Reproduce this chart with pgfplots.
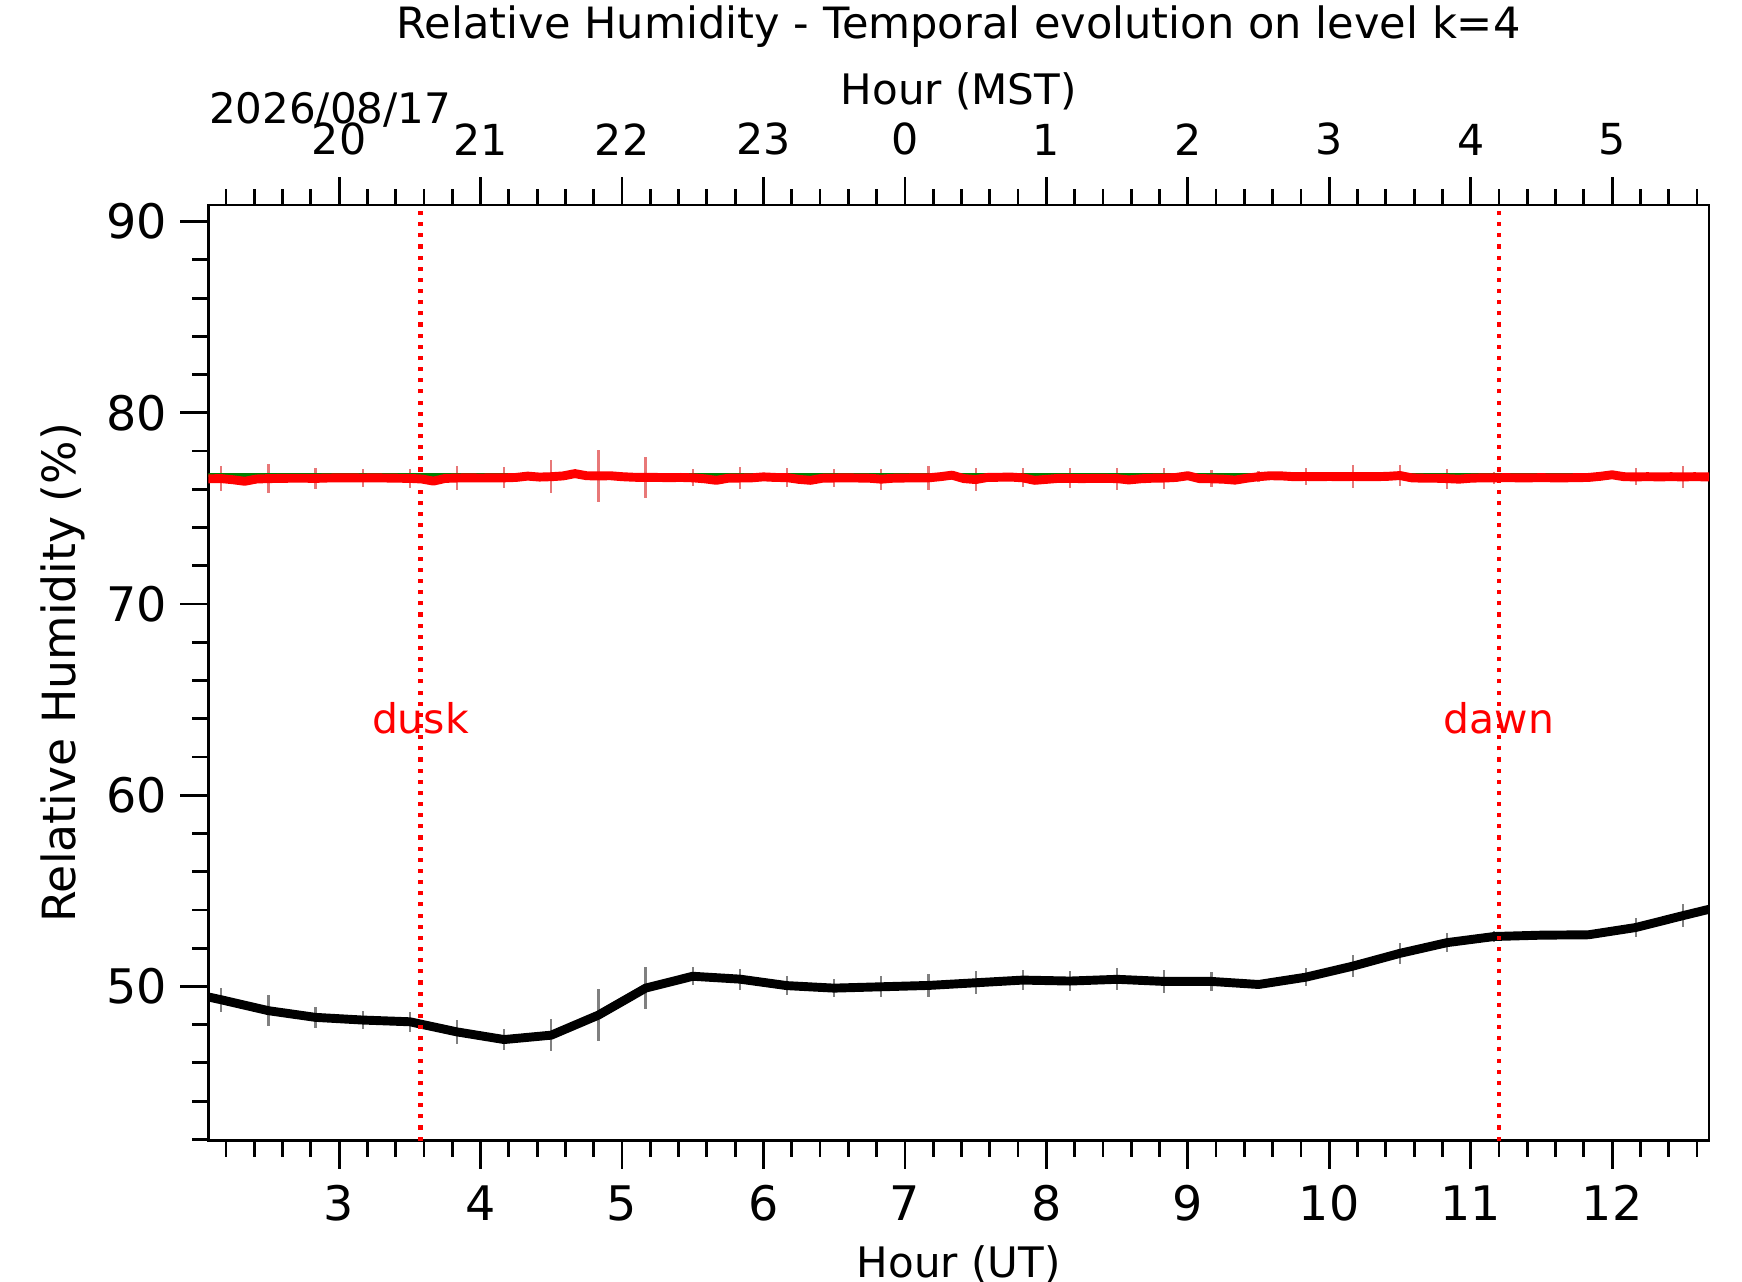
\documentclass[border=0pt]{standalone}
\usepackage{pgfplots}
\usepackage{pgfplotstable}
\pgfplotsset{compat=1.18}
\usepackage{fontspec}
\setmainfont{DejaVu Sans}
\newcommand{\fs}{\fontsize{11.3}{13.6}\selectfont}
\newcommand{\fsb}{\fontsize{12.8}{15.4}\selectfont}
\newcommand{\fst}{\fontsize{11.5}{13.8}\selectfont}
\newcommand{\fstt}{\fontsize{11.6}{13.9}\selectfont}
\newcommand{\fsy}{\fontsize{12.3}{14.8}\selectfont}
\definecolor{rebar}{RGB}{232,120,120}
\definecolor{gbar}{RGB}{128,128,128}
\definecolor{dkgreen}{RGB}{0,128,0}

\pgfplotstableread{
h v e
1.8333 49.84 0
2.1667 49.30 0.64
2.5000 48.73 0.81
2.8333 48.38 0.55
3.1667 48.24 0.49
3.5000 48.15 0.53
3.8333 47.62 0.62
4.1667 47.22 0.55
4.5000 47.45 0.85
4.8333 48.50 1.38
5.1667 49.91 1.08
5.5000 50.53 0.48
5.8333 50.38 0.55
6.1667 50.04 0.50
6.5000 49.91 0.49
6.8333 49.98 0.55
7.1667 50.05 0.61
7.5000 50.19 0.60
7.8333 50.33 0.51
8.1667 50.28 0.53
8.5000 50.37 0.58
8.8333 50.26 0.58
9.1667 50.26 0.48
9.5000 50.10 0.25
9.8333 50.48 0.46
10.1667 51.06 0.58
10.5000 51.73 0.56
10.8333 52.29 0.48
11.1667 52.61 0.27
11.5000 52.68 0.20
11.8333 52.70 0.20
12.1667 53.08 0.48
12.5000 53.70 0.59
12.8333 54.30 0
}\blackdata

\pgfplotstableread{
h v e
2.1667 76.56 0.67
2.5000 76.56 0.75
2.8333 76.57 0.54
3.1667 76.59 0.48
3.5000 76.57 0.50
3.8333 76.59 0.62
4.1667 76.60 0.55
4.5000 76.66 0.86
4.8333 76.70 1.37
5.1667 76.62 1.06
5.5000 76.60 0.45
5.8333 76.59 0.58
6.1667 76.61 0.49
6.5000 76.59 0.49
6.8333 76.53 0.55
7.1667 76.60 0.61
7.5000 76.51 0.61
7.8333 76.60 0.49
8.1667 76.57 0.52
8.5000 76.56 0.57
8.8333 76.59 0.55
9.1667 76.55 0.44
9.5000 76.66 0.30
9.8333 76.67 0.47
10.1667 76.67 0.62
10.5000 76.72 0.57
10.8333 76.56 0.52
11.1667 76.60 0.32
11.5000 76.61 0.15
11.8333 76.62 0.15
12.1667 76.65 0.45
12.5000 76.65 0.59
}\redbars

\pgfplotstableread{
h v
2.000 76.55
2.083 76.55
2.167 76.56
2.250 76.50
2.333 76.42
2.417 76.54
2.500 76.56
2.583 76.57
2.667 76.58
2.750 76.58
2.833 76.57
2.917 76.59
3.000 76.60
3.083 76.60
3.167 76.59
3.250 76.60
3.333 76.59
3.417 76.58
3.500 76.57
3.583 76.54
3.667 76.43
3.750 76.57
3.833 76.59
3.917 76.60
4.000 76.59
4.083 76.60
4.167 76.60
4.250 76.62
4.333 76.69
4.417 76.64
4.500 76.66
4.583 76.70
4.667 76.82
4.750 76.71
4.833 76.70
4.917 76.71
5.000 76.66
5.083 76.63
5.167 76.62
5.250 76.62
5.333 76.61
5.417 76.62
5.500 76.60
5.583 76.55
5.667 76.47
5.750 76.58
5.833 76.59
5.917 76.60
6.000 76.65
6.083 76.62
6.167 76.61
6.250 76.52
6.333 76.47
6.417 76.58
6.500 76.59
6.583 76.60
6.667 76.59
6.750 76.58
6.833 76.53
6.917 76.58
7.000 76.59
7.083 76.60
7.167 76.60
7.250 76.66
7.333 76.74
7.417 76.56
7.500 76.51
7.583 76.62
7.667 76.63
7.750 76.64
7.833 76.60
7.917 76.47
8.000 76.52
8.083 76.57
8.167 76.57
8.250 76.56
8.333 76.57
8.417 76.57
8.500 76.56
8.583 76.49
8.667 76.55
8.750 76.58
8.833 76.59
8.917 76.62
9.000 76.71
9.083 76.56
9.167 76.55
9.250 76.53
9.333 76.48
9.417 76.58
9.500 76.66
9.583 76.71
9.667 76.70
9.750 76.66
9.833 76.67
9.917 76.66
10.000 76.67
10.083 76.66
10.167 76.67
10.250 76.66
10.333 76.66
10.417 76.68
10.500 76.72
10.583 76.60
10.667 76.58
10.750 76.58
10.833 76.56
10.917 76.53
11.000 76.58
11.083 76.60
11.167 76.60
11.250 76.61
11.333 76.60
11.417 76.60
11.500 76.61
11.583 76.60
11.667 76.60
11.750 76.61
11.833 76.62
11.917 76.68
12.000 76.76
12.083 76.66
12.167 76.65
12.250 76.66
12.333 76.65
12.417 76.66
12.500 76.65
12.583 76.66
12.667 76.65
12.750 76.65
}\redline

\begin{document}
\begin{tikzpicture}
\pgfplotsset{
  common/.style={
    at={(0,0)}, anchor=south west,
    scale only axis, width=403.7pt, height=251.7pt,
    xmin=2.075, xmax=12.685, ymin=41.93, ymax=90.87,
    axis line style={line width=0.75pt},
    tick style={line width=0.75pt, black},
    tick align=outside,
    major tick length=7.5pt, minor tick length=4.3pt,
    xtick={3,4,5,6,7,8,9,10,11,12},
    minor xtick={2.2,2.4,...,12.6},
    /pgf/number format/assume math mode=true,
  }
}
\begin{axis}[
  common, name=main,
  ticklabel style={font=\fsb},
  xticklabel style={yshift=-1.0pt},
  xticklabels={3,4,5,6,7,8,9,10,11,12},
  ytick={50,60,70,80,90}, yticklabels={50,60,70,80,90},
  minor ytick={42,44,...,90},
  xtick pos=left, ytick pos=left,
  xlabel={Hour (UT)}, ylabel={Relative Humidity (\%)},
  xlabel style={font=\fs, at={(axis description cs:0.5,-0.1319)}, anchor=center},
  ylabel style={font=\fsy, at={(axis description cs:-0.0966,0.5)}, anchor=center},
  title={Relative Humidity - Temporal evolution on level k=4},
  title style={font=\fstt, at={(axis description cs:0.5,1.1669)}, anchor=center},
]
\addplot[draw=none, mark=none, forget plot,
  error bars/.cd, y dir=both, y explicit, error mark=none,
  error bar style={draw=gbar, line width=0.6pt}]
  table[x=h, y=v, y error=e] {\blackdata};
\addplot[black, line width=2.4pt, line join=round] table[x=h, y=v] {\blackdata};
\addplot[draw=none, mark=none, forget plot,
  error bars/.cd, y dir=both, y explicit, error mark=none,
  error bar style={draw=rebar, line width=0.6pt}]
  table[x=h, y=v, y error=e] {\redbars};
\addplot[dkgreen, line width=1.2pt] coordinates {(2.0,76.76) (12.75,76.76)};
\addplot[red, line width=2.4pt, line join=round] table[x=h, y=v] {\redline};
\addplot[red, line width=1.1pt, dash pattern=on 1.1pt off 1.9pt] coordinates {(3.575,41.93) (3.575,90.87)};
\addplot[red, line width=1.1pt, dash pattern=on 1.1pt off 1.9pt] coordinates {(11.20,41.93) (11.20,90.87)};
\node[red, font=\fontsize{11.0}{13.2}\selectfont] at (axis cs:3.575,64) {dusk};
\node[red, font=\fontsize{11.0}{13.2}\selectfont] at (axis cs:11.20,64) {dawn};
\end{axis}
\begin{axis}[
  common,
  axis x line*=top, axis y line=none,
  ticklabel style={font=\fst},
  xticklabel style={yshift=2.4pt},
  xticklabels={20,21,22,23,0,1,2,3,4,5},
  xlabel={Hour (MST)},
  xlabel style={font=\fs, at={(axis description cs:0.5,1.1216)}, anchor=center},
]
\end{axis}
\node[font=\fs, anchor=base west, inner sep=0pt] at ([yshift=21.8pt]main.north west) {2026/08/17};
\pgfresetboundingbox
\path[use as bounding box] (-56.03pt,-38.0pt) rectangle (412.57pt,306.85pt);
\end{tikzpicture}
\end{document}
